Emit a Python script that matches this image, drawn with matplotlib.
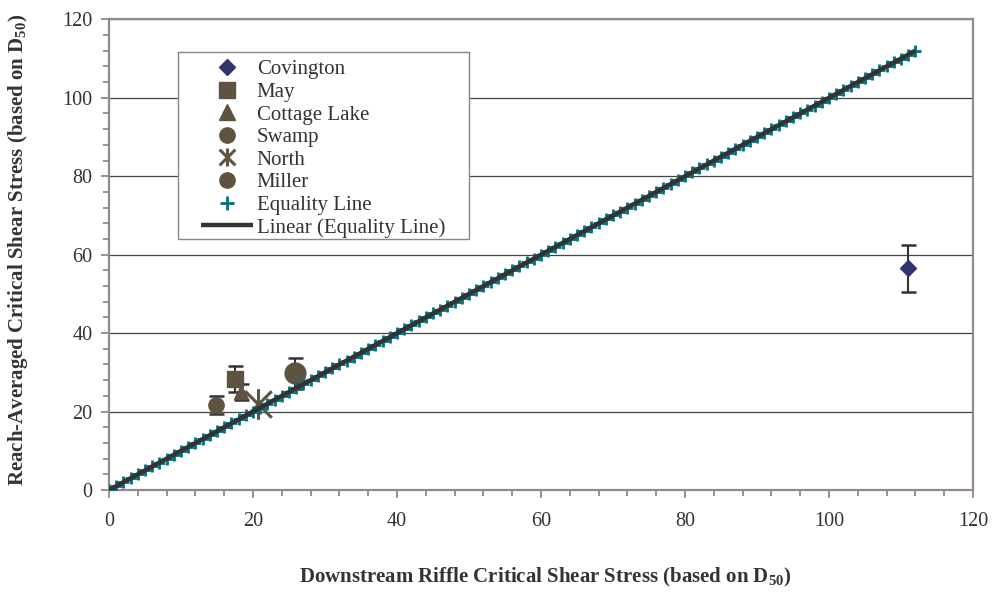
import numpy as np
import matplotlib
matplotlib.use('Agg')
import matplotlib.pyplot as plt
from matplotlib.path import Path
from matplotlib.patches import Rectangle
from matplotlib.ticker import MultipleLocator

plt.rcParams['font.family'] = ['Liberation Serif', 'DejaVu Serif']
plt.rcParams['mathtext.fontset'] = 'custom'
plt.rcParams['mathtext.rm'] = 'Liberation Serif:bold'
plt.rcParams['mathtext.bf'] = 'Liberation Serif:bold'

# ------ Donnees ------
sites = ['Covington', 'May', 'Cottage Lake', 'Swamp', 'North', 'Miller']
riffle_tau = [111.0, 17.5, 18.3, 14.8, 20.7, 25.8]
reach_tau = [56.5, 28.4, 25.0, 21.7, 22.0, 29.7]
err_low = [5.9, 3.3, 2.0, 2.2, np.nan, 4.0]
err_high = [5.9, 3.3, 2.0, 2.2, np.nan, 4.0]

# Equality line : un point "+" par unite de 0 a 112
equality_x = list(range(0, 113))
equality_y = list(range(0, 113))

x_ticks = [0, 20, 40, 60, 80, 100, 120]
y_ticks = [0, 20, 40, 60, 80, 100, 120]

# ------ Styles ------
brown = '#5e5240'
navy = '#33336e'
teal = '#00707f'
dark = '#333333'
spine_col = '#948a86'

# marqueur "etoile" Excel : X + trait vertical
star_path = Path([(-1, -1), (1, 1), (-1, 1), (1, -1), (0, -1.15), (0, 1.15)],
                 [Path.MOVETO, Path.LINETO, Path.MOVETO, Path.LINETO, Path.MOVETO, Path.LINETO])

styles = {
    'Covington': dict(marker='D', ms=8, color=navy),
    'May': dict(marker='s', ms=11, color=brown),
    'Cottage Lake': dict(marker='^', ms=10.5, color=brown),
    'Swamp': dict(marker='o', ms=11, color=brown),
    'North': dict(marker=star_path, ms=22, color=brown, mew=2.2, mfc='none'),
    'Miller': dict(marker='o', ms=15, color=brown),
}
# tailles des symboles dans la legende (Excel les uniformise)
legend_ms = [8.5, 11, 11, 11, 13, 11, 10, None]

fig = plt.figure(figsize=(9.93, 5.94), dpi=100)
ax = fig.add_axes([0.1098, 0.1751, 0.8701, 0.7924])

ax.set_xlim(0, 120)
ax.set_ylim(0, 120)
ax.set_xticks(x_ticks)
ax.set_yticks(y_ticks)
ax.xaxis.set_minor_locator(MultipleLocator(4))
ax.yaxis.set_minor_locator(MultipleLocator(4))
ax.tick_params(which='major', direction='out', length=6, width=1.3, color=spine_col,
               labelsize=14.5, labelcolor=dark)
ax.tick_params(axis='x', which='major', pad=10)
ax.tick_params(axis='y', which='major', pad=6)
ax.tick_params(which='minor', direction='out', length=4, width=1.3, color=spine_col)
for s in ax.spines.values():
    s.set_color(spine_col)
    s.set_linewidth(1.6)

ax.yaxis.grid(True, color='#444444', linewidth=0.9, zorder=0)
ax.set_axisbelow(True)

# barres d'erreur
ok = [i for i in range(len(sites)) if not np.isnan(err_low[i])]
ax.errorbar([riffle_tau[i] for i in ok], [reach_tau[i] for i in ok],
            yerr=[[err_low[i] for i in ok], [err_high[i] for i in ok]],
            fmt='none', ecolor=dark, elinewidth=1.5, capsize=5.4, capthick=1.8, zorder=2)

# points des sites
for i, name in enumerate(sites):
    st = dict(styles[name])
    ax.plot([riffle_tau[i]], [reach_tau[i]], linestyle='none', label=name,
            marker=st.pop('marker'), markersize=st.pop('ms'), color=st.pop('color'),
            zorder=3, **st)

# ligne d'egalite
ax.plot(equality_x, equality_y, linestyle='none', marker='+', markersize=9,
        markeredgewidth=2.0, color=teal, label='Equality Line', zorder=4)
ax.plot([equality_x[0], equality_x[-1]], [equality_y[0], equality_y[-1]],
        color=dark, linewidth=3.2, solid_capstyle='butt',
        label='Linear (Equality Line)', zorder=5)

# cadre de la legende
box = Rectangle((0.08, 0.533), 0.337, 0.397, transform=ax.transAxes,
                facecolor='white', edgecolor='#888888', linewidth=1.0, zorder=6)
ax.add_patch(box)
leg = ax.legend(loc='upper left', bbox_to_anchor=(0.107, 0.914), frameon=False,
                fontsize=15, borderpad=0, borderaxespad=0, handlelength=2.45,
                handletextpad=0.2, labelspacing=0.145)
leg.set_zorder(7)
for t in leg.get_texts():
    t.set_color(dark)
for h, m in zip(leg.legend_handles, legend_ms):
    if m is not None:
        h.set_markersize(m)

fig.text(0.549, 0.027, r'Downstream Riffle Critical Shear Stress (based on D$_{50}$)',
         ha='center', va='center', fontsize=15, fontweight='bold', color=dark)
fig.text(0.018, 0.579, r'Reach-Averaged Critical Shear Stress (based on D$_{50}$)',
         ha='center', va='center', rotation=90, fontsize=15, fontweight='bold', color=dark)

fig.savefig('out.png', dpi=100)
